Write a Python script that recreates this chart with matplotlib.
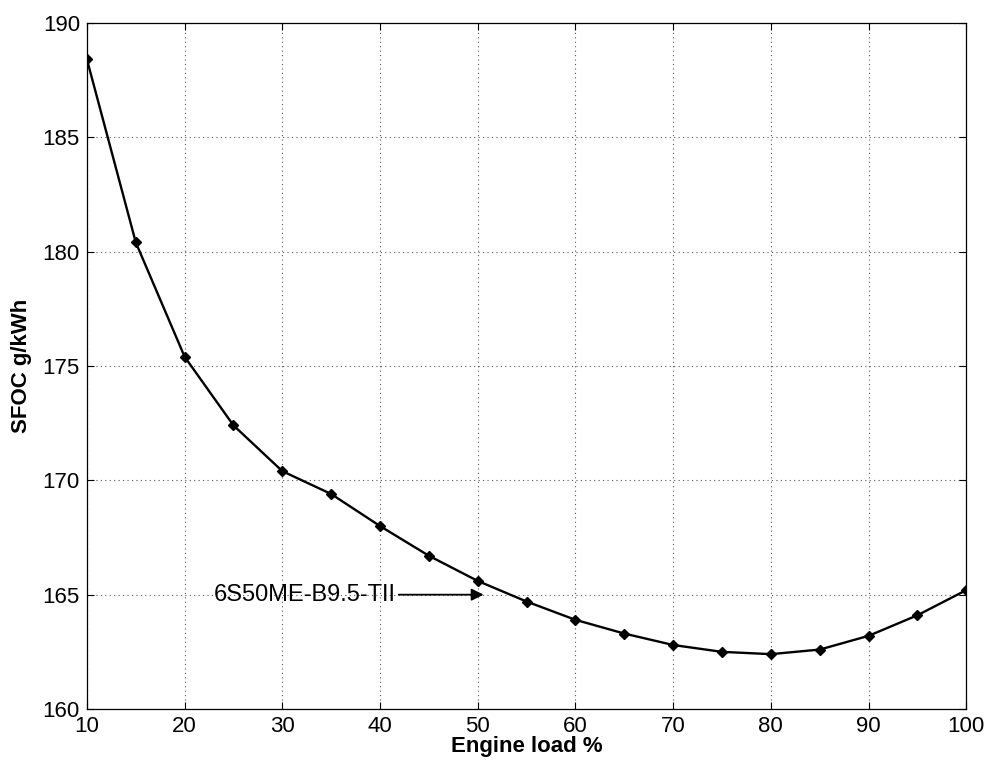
import matplotlib
matplotlib.use("Agg")
import matplotlib.pyplot as plt

plt.rcParams['font.family'] = ['Liberation Sans', 'DejaVu Sans']

# Specific fuel oil consumption vs engine load
engine_load = [10, 15, 20, 25, 30, 35, 40, 45, 50, 55,
               60, 65, 70, 75, 80, 85, 90, 95, 100]
sfoc = [188.4, 180.4, 175.4, 172.4, 170.4, 169.4, 168.0, 166.7, 165.6, 164.7,
        163.9, 163.3, 162.8, 162.5, 162.4, 162.6, 163.2, 164.1, 165.2]

x_ticks = [10, 20, 30, 40, 50, 60, 70, 80, 90, 100]
y_ticks = [160, 165, 170, 175, 180, 185, 190]

engine_name = "6S50ME-B9.5-TII"
arrow_tip = (50.6, 165.0)
label_pos = (23.0, 165.0)

fig = plt.figure(figsize=(9.88, 7.62), dpi=100)
ax = fig.add_axes([0.088, 0.0695, 0.89, 0.9005])

ax.plot(engine_load, sfoc, color='black', linewidth=1.7,
        marker='D', markersize=5.5, markerfacecolor='black',
        markeredgecolor='black')

ax.set_xlim(10, 100)
ax.set_ylim(160, 190)
ax.set_xticks(x_ticks)
ax.set_yticks(y_ticks)
ax.tick_params(direction='in', top=True, right=True, labelsize=16,
               length=5, width=0.8)
ax.tick_params(axis='x', pad=5)
ax.tick_params(axis='y', pad=5)
for s in ax.spines.values():
    s.set_linewidth(0.9)

ax.grid(True, linestyle=(0, (1, 3)), color='#555555', linewidth=0.8)

ax.set_xlabel("Engine load %", fontsize=16, fontweight='bold', labelpad=-1)
ax.set_ylabel("SFOC g/kWh", fontsize=16, fontweight='bold', labelpad=8)

ax.annotate(engine_name, xy=arrow_tip, xytext=label_pos,
            fontsize=17, va='center', ha='left',
            arrowprops=dict(arrowstyle='-|>', color='black', lw=1.3,
                            mutation_scale=18, shrinkA=0, shrinkB=0))

fig.savefig("out.png", dpi=100)
